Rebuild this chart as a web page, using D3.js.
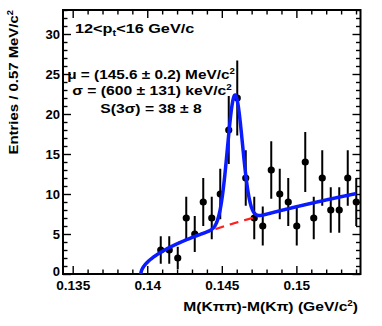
<!DOCTYPE html>
<html>
<head>
<meta charset="utf-8">
<script src="https://cdn.jsdelivr.net/npm/d3@7"></script>
<style>
  html, body { margin: 0; padding: 0; background: #fff; }
  svg { display: block; font-family: "Liberation Sans", Arial, Helvetica, sans-serif; }
</style>
</head>
<body>
<svg id="chart" width="382" height="326"></svg>
<script>
// Bin centres of the filled bins (GeV/c^2), bin width 0.57 MeV/c^2
const binCenters = [
  0.140905, 0.141475, 0.142045, 0.142615, 0.143185, 0.143755,
  0.144325, 0.144895, 0.145465, 0.146035, 0.146605, 0.147175,
  0.147745, 0.148315, 0.148885, 0.149455, 0.150025, 0.150595,
  0.151165, 0.151735, 0.152305, 0.152875, 0.153445, 0.154015
];
// Entries per bin
const counts = [
  3, 3, 2, 7, 5, 9,
  7, 10, 18, 22, 12, 7,
  6, 13, 10, 9, 6, 14,
  7, 12, 8, 8, 12, 9
];

const xMajorTicks = [0.135, 0.14, 0.145, 0.15];
const xTickLabels = ["0.135", "0.14", "0.145", "0.15"];
const xMinorTicks = [0.136, 0.137, 0.138, 0.139, 0.141, 0.142, 0.143, 0.144,
                     0.146, 0.147, 0.148, 0.149, 0.151, 0.152, 0.153, 0.154];
const yMajorTicks = [0, 5, 10, 15, 20, 25, 30];
const yTickLabels = ["0", "5", "10", "15", "20", "25", "30"];
const yMinorTicks = [1, 2, 3, 4, 6, 7, 8, 9, 11, 12, 13, 14, 16, 17, 18, 19,
                     21, 22, 23, 24, 26, 27, 28, 29, 31, 32, 33];

// Fit model: threshold background + Gaussian signal
const bgThreshold = 0.13957;
const bgNorm = 103.4;
const bgPower = 0.55;
const sigMean = 0.14588;
const sigSigma = 0.0005;
const sigAmp = 16.0;

const xDomain = [0.13435, 0.15430];
const yDomain = [0, 33];

const svg = d3.select("#chart");
const frame = { left: 63, right: 360.5, top: 10, bottom: 274 };

const x = d3.scaleLinear().domain(xDomain).range([frame.left, frame.right]);
const y = d3.scaleLinear().domain(yDomain).range([frame.bottom, frame.top]);

const bg = m => m <= bgThreshold ? 0 : bgNorm * Math.pow(m - bgThreshold, bgPower);
const total = m => bg(m) + sigAmp * Math.exp(-0.5 * Math.pow((m - sigMean) / sigSigma, 2));

const TICK_FONT = 13;
const TEXT_FONT = 13.5;

// Axes with inward-pointing ticks on all four sides
function drawAxis(axisGen, transform, ticks, size, labels) {
  const g = svg.append("g").attr("transform", transform)
    .call(axisGen.tickValues(ticks).tickSize(size).tickSizeOuter(0)
      .tickFormat(labels ? (d, i) => labels[i] : () => ""));
  g.select(".domain").remove();
  g.selectAll(".tick line").attr("stroke", "#000").attr("stroke-width", 1.4);
  g.selectAll(".tick text")
    .attr("fill", "#000")
    .attr("font-size", TICK_FONT)
    .attr("font-weight", "bold");
  return g;
}

// bottom
const gxb = drawAxis(d3.axisBottom(x), `translate(0,${frame.bottom})`, xMajorTicks, -8, xTickLabels);
gxb.selectAll(".tick text").attr("y", 7).attr("dy", "0.71em")
  .attr("transform", "scale(1.05,1)");
drawAxis(d3.axisBottom(x), `translate(0,${frame.bottom})`, xMinorTicks, -4.5, null);
// top
drawAxis(d3.axisTop(x), `translate(0,${frame.top})`, xMajorTicks, -8, null);
drawAxis(d3.axisTop(x), `translate(0,${frame.top})`, xMinorTicks, -4.5, null);
// left
const gyl = drawAxis(d3.axisLeft(y), `translate(${frame.left},0)`, yMajorTicks, -8, yTickLabels);
gyl.selectAll(".tick text").attr("x", -3).attr("dy", "0.36em");
gyl.selectAll(".tick text").filter(d => d === 0).attr("dy", "0.12em");
drawAxis(d3.axisLeft(y), `translate(${frame.left},0)`, yMinorTicks, -4.5, null);
// right
drawAxis(d3.axisRight(y), `translate(${frame.right},0)`, yMajorTicks, -8, null);
drawAxis(d3.axisRight(y), `translate(${frame.right},0)`, yMinorTicks, -4.5, null);

// frame
svg.append("rect")
  .attr("x", frame.left).attr("y", frame.top)
  .attr("width", frame.right - frame.left).attr("height", frame.bottom - frame.top)
  .attr("fill", "none").attr("stroke", "#000").attr("stroke-width", 2);

// clip to plot area
svg.append("clipPath").attr("id", "plotArea")
  .append("rect").attr("x", frame.left).attr("y", frame.top)
  .attr("width", frame.right - frame.left).attr("height", frame.bottom - frame.top);

const plot = svg.append("g").attr("clip-path", "url(#plotArea)");

// data points with Poisson error bars
const pts = binCenters.map((c, i) => ({ m: c, n: counts[i], e: Math.sqrt(counts[i]) }));
plot.selectAll("line.err").data(pts).join("line")
  .attr("class", "err")
  .attr("x1", d => x(d.m)).attr("x2", d => x(d.m))
  .attr("y1", d => y(Math.max(0, d.n - d.e))).attr("y2", d => y(d.n + d.e))
  .attr("stroke", "#000").attr("stroke-width", 2);
plot.selectAll("circle.pt").data(pts).join("circle")
  .attr("class", "pt")
  .attr("cx", d => x(d.m)).attr("cy", d => y(d.n))
  .attr("r", 3.6).attr("fill", "#000");

// background component (dashed) and full fit
const bgSamples = d3.range(bgThreshold, xDomain[1] + 1e-6, 0.00002);
const fitSamples = d3.range(bgThreshold, 0.15402, 0.00002);

plot.append("path")
  .datum(bgSamples)
  .attr("d", d3.line().x(m => x(m)).y(m => y(bg(m))))
  .attr("fill", "none").attr("stroke", "#ff2020")
  .attr("stroke-width", 2.2).attr("stroke-dasharray", "9,6");

plot.append("path")
  .datum(fitSamples)
  .attr("d", d3.line().x(m => x(m)).y(m => y(total(m))))
  .attr("fill", "none").attr("stroke", "#0a1cff")
  .attr("stroke-width", 3.5).attr("stroke-linejoin", "round");

// Place a text block at (ax, ay), stretched horizontally to span the given width
function placeText(parent, ax, ay, width, anchor, rotate) {
  const t = parent.append("text").attr("x", 0).attr("y", 0)
    .attr("text-anchor", anchor)
    .attr("font-size", TEXT_FONT).attr("font-weight", "bold").attr("fill", "#000");
  t.fit = () => {
    const w = t.node().getBBox().width;
    const s = width / w;
    t.attr("transform", `translate(${ax},${ay})${rotate ? " rotate(-90)" : ""} scale(${s},1)`);
    return t;
  };
  return t;
}
function supScript(t, txt) {
  t.append("tspan").attr("font-size", 8.5).attr("dy", -5).text(txt);
}

const ann = svg.append("g");

const t1 = placeText(ann, 75, 33, 120, "start");
t1.append("tspan").text("12<p");
t1.append("tspan").attr("font-size", 9).attr("dy", 3).text("t");
t1.append("tspan").attr("dy", -3).text("<16 GeV/c");
t1.fit();

const t2 = placeText(ann, 151, 79, 168, "middle");
t2.append("tspan").text("\u03bc = (145.6 \u00b1 0.2) MeV/c");
supScript(t2, "2");
t2.fit();

const t3 = placeText(ann, 152, 94.5, 160, "middle");
t3.append("tspan").text("\u03c3 = (600 \u00b1 131) keV/c");
supScript(t3, "2");
t3.fit();

placeText(ann, 151, 113, 102, "middle")
  .text("S(3\u03c3) = 38 \u00b1 8").fit();

// axis titles
const xt = placeText(svg, 358, 311, 175, "end");
xt.append("tspan").text("M(K\u03c0\u03c0)-M(K\u03c0) (GeV/c");
supScript(xt, "2");
xt.append("tspan").attr("dy", 5).text(")");
xt.fit();

const yt = placeText(svg, 18, 10, 145, "end", true);
yt.append("tspan").text("Entries / 0.57 MeV/c");
supScript(yt, "2");
yt.fit();
</script>
</body>
</html>
